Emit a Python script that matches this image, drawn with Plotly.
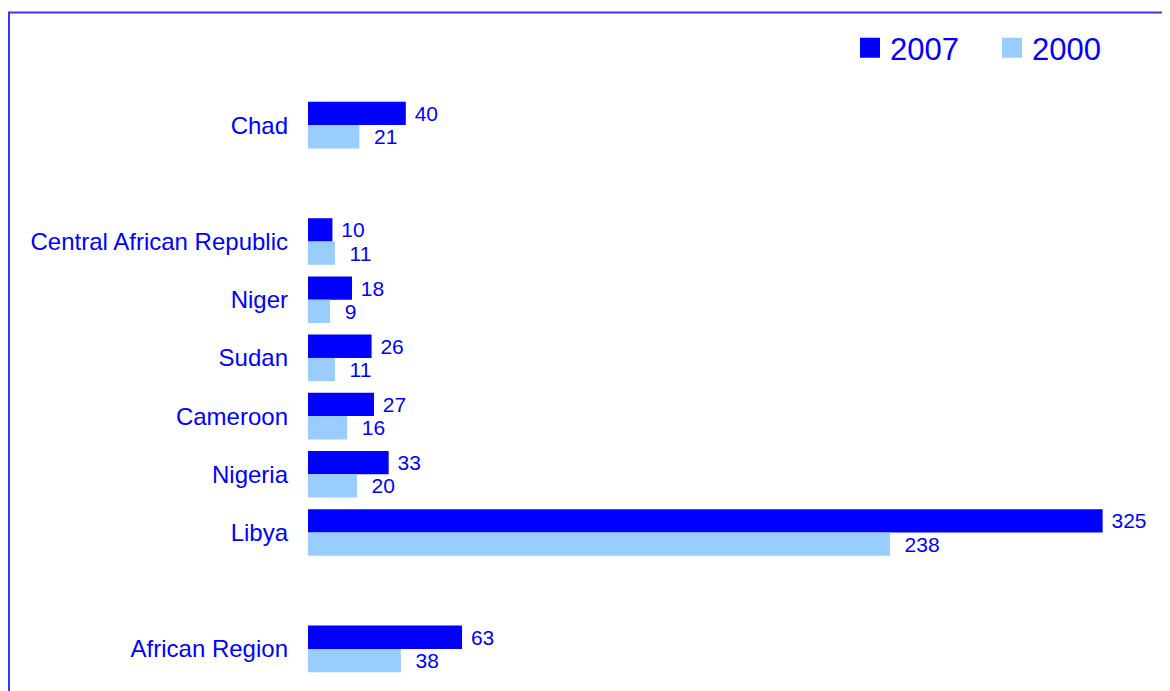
import plotly.graph_objects as go

categories = ["Chad", " ", "Central African Republic", "Niger", "Sudan",
              "Cameroon", "Nigeria", "Libya", "  ", "African Region"]
values_2007 = [40, None, 10, 18, 26, 27, 33, 325, None, 63]
values_2000 = [21, None, 11, 9, 11, 16, 20, 238, None, 38]
series_names = ["2007", "2000"]
series_colors = ["#0000FF", "#99CCFF"]

FONT = "Liberation Sans, Arial, sans-serif"
BLUE = "#0000FF"

W, H = 1170, 691
ML, MR, MT, MB = 300, 20, 88, 21
PW = W - ML - MR
PH = H - MT - MB

fig = go.Figure()
for name, vals, col, pre in zip(series_names, [values_2007, values_2000], series_colors, [" ", "  "]):
    fig.add_trace(go.Bar(
        y=categories, x=vals, orientation="h", name=name,
        marker=dict(color=col, line=dict(width=0)),
        text=[(pre + str(v)) if v is not None else "" for v in vals],
        textposition="outside", constraintext="none", cliponaxis=False,
        textfont=dict(family=FONT, size=21, color=BLUE),
        showlegend=False, hoverinfo="x+y",
    ))
# legend entries
for name, col in zip(series_names, series_colors):
    fig.add_trace(go.Scatter(
        x=[None], y=[None], mode="markers", name=name,
        marker=dict(symbol="square", size=16, color=col, line=dict(color=col, width=4)),
        showlegend=True,
    ))

fig.update_layout(
    width=W, height=H,
    margin=dict(l=ML, r=MR, t=MT, b=MB),
    paper_bgcolor="white", plot_bgcolor="white",
    barmode="group", bargap=0.2, bargroupgap=0,
    font=dict(family=FONT, color=BLUE),
    xaxis=dict(visible=False, range=[0, PW / 2.445]),
    yaxis=dict(type="category", categoryorder="array", categoryarray=categories,
               range=[9.5, -0.5], showgrid=False, showline=False, zeroline=False,
               ticks="", ticklabelstandoff=19,
               tickfont=dict(family=FONT, size=24, color=BLUE)),
    legend=dict(orientation="h", xref="container", yref="container",
                x=842/W, y=1-40/H, xanchor="left", yanchor="middle",
                font=dict(family=FONT, size=31, color=BLUE),
                entrywidth=97, bgcolor="rgba(0,0,0,0)"),
    shapes=[dict(type="rect", xref="paper", yref="paper",
                 x0=(1-ML)/PW, x1=1.2, y0=-0.2, y1=(MT + PH - 4.5)/PH,
                 line=dict(color="#3535FF", width=2), fillcolor="rgba(0,0,0,0)",
                 layer="below")],
)

fig.write_html("out.html")
